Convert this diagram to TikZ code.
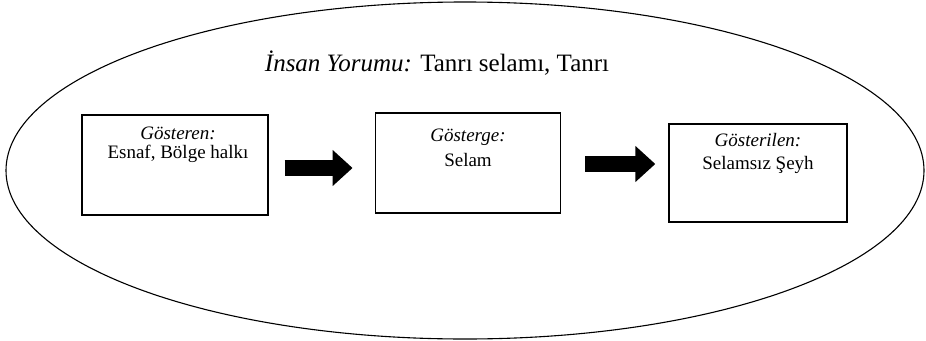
\documentclass[tikz,border=0pt]{standalone}
\usepackage{fontspec}
\setmainfont{Liberation Serif}
\usetikzlibrary{arrows.meta,shapes.geometric}
\begin{document}
\begin{tikzpicture}[x=1pt,y=-1pt,
  boxst/.style={draw,line width=1.4pt,rectangle,inner sep=0pt},
  boxtext/.style={anchor=base,font=\fontsize{19}{22}\selectfont,inner sep=0pt},
  bigarrow/.style={line width=16pt,-{Triangle[length=20pt,width=35pt]}}
]
\useasboundingbox (0,0) rectangle (926,340);
\node[draw,line width=1.1pt,ellipse,minimum width=918pt,minimum height=337pt,inner sep=0pt] (ell) at (465,170.5) {};
\node[anchor=base,font=\fontsize{25}{30}\selectfont,inner sep=0pt] (title) at (437,71) {\textit{İnsan Yorumu:} Tanrı selamı, Tanrı};
\node[boxst,minimum width=186pt,minimum height=100pt] (b1) at (175,165) {};
\node[boxst,minimum width=185.5pt,minimum height=100pt] (b2) at (468,163) {};
\node[boxst,minimum width=178pt,minimum height=98pt] (b3) at (758,173) {};
\node[boxtext] (t1a) at ([xshift=3pt,yshift=-25pt]b1.north) {\textit{Gösteren:}};
\node[boxtext] (t1b) at ([xshift=3pt,yshift=-44.5pt]b1.north) {Esnaf, Bölge halkı};
\node[boxtext] (t2a) at ([yshift=-29.5pt]b2.north) {\textit{Gösterge:}};
\node[boxtext] (t2b) at ([yshift=-54.5pt]b2.north) {Selam};
\node[boxtext] (t3a) at ([yshift=-23.5pt]b3.north) {\textit{Gösterilen:}};
\node[boxtext] (t3b) at ([yshift=-46pt]b3.north) {Selamsız Şeyh};
\draw[bigarrow,shorten <=16pt,shorten >=22pt] ([yshift=-3pt]b1.east) -- ([yshift=-3pt]b1.east -| b2.west);
\draw[bigarrow,shorten <=24pt,shorten >=13pt] ([yshift=-1pt]b2.east) -- ([yshift=-1pt]b2.east -| b3.west);
\end{tikzpicture}
\end{document}
